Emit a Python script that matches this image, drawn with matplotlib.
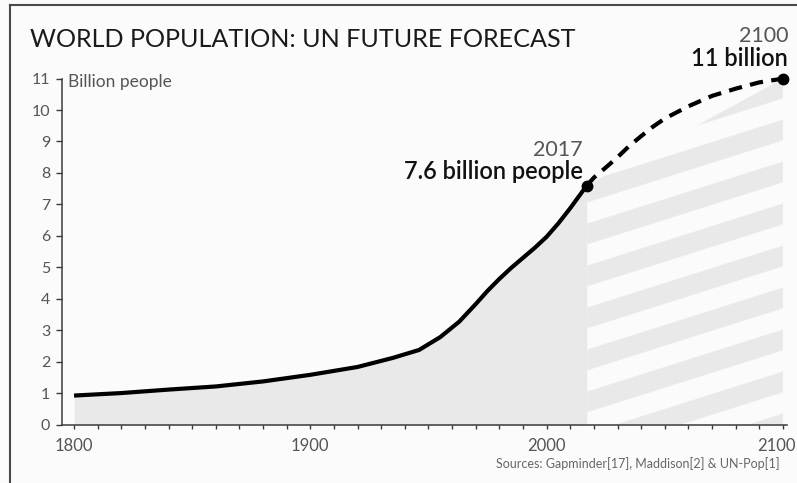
import numpy as np
import matplotlib
matplotlib.use("Agg")
import matplotlib.pyplot as plt
from matplotlib.patches import Polygon
from matplotlib.lines import Line2D

# World population, billions (historic estimates)
years_hist = [1800, 1820, 1840, 1860, 1880, 1900, 1920, 1935, 1946, 1955, 1963,
              1970, 1975, 1980, 1985, 1990, 1995, 2000, 2005, 2010, 2017]
pop_hist = [0.92, 1.00, 1.11, 1.21, 1.37, 1.58, 1.83, 2.12, 2.37, 2.78, 3.27,
            3.83, 4.25, 4.63, 4.98, 5.3, 5.62, 5.97, 6.4, 6.88, 7.6]

# UN medium-variant projection
years_proj = [2017, 2020, 2025, 2030, 2035, 2040, 2045, 2050, 2060, 2070, 2080, 2090, 2100]
pop_proj = [7.6, 7.85, 8.17, 8.5, 8.86, 9.17, 9.47, 9.73, 10.12, 10.45, 10.68, 10.88, 11.0]

x_major = [1800, 1900, 2000, 2100]
x_labels = ["1800", "1900", "2000", "2100"]
y_ticks = list(range(0, 12))

FILL = "#e9e9e9"
TXT_GREY = "#555555"
AXIS = "#3a3a3a"

W, H = 797, 483
fig = plt.figure(figsize=(W / 100, H / 100), dpi=100, facecolor="#fbfbfb")
plt.rcParams["font.family"] = ["Lato", "DejaVu Sans"]

def fx(px):
    return px / W

def fy(py):
    return 1 - py / H

ax = fig.add_axes([fx(62), fy(424.5), (786.7 - 62) / W, (424.5 - 78.6) / H])
ax.set_facecolor("none")
ax.set_xlim(1794.9, 2101.6)
ax.set_ylim(0, 11)

# solid area under the historic curve
ax.fill_between(years_hist, 0, pop_hist, color=FILL, lw=0, zorder=1)

# striped area for the projection, bounded by the chord between end points
clip = Polygon([(years_proj[0], 0), (years_proj[0], pop_proj[0]),
                (years_proj[-1], pop_proj[-1]), (years_proj[-1], 0)],
               closed=True, transform=ax.transData, facecolor="none",
               edgecolor="none")
ax.add_patch(clip)
period, band, slope, base = 1.335, 0.66, 0.0238, 1.74
xs = np.array([years_proj[0], years_proj[-1]], dtype=float)
for k in range(-3, 8):
    lo = base + k * period + slope * (xs - xs[0])
    poly = ax.fill_between(xs, lo, lo + band, color=FILL, lw=0, zorder=1)
    poly.set_clip_path(clip)

# curves
ax.plot(years_hist, pop_hist, color="black", lw=3.0, solid_capstyle="butt",
        solid_joinstyle="round", zorder=3)
ax.plot(years_proj, pop_proj, color="black", lw=3.0, dashes=(3.2, 2.0),
        zorder=3, clip_on=False)
ax.plot([years_proj[0], years_proj[-1]], [pop_proj[0], pop_proj[-1]], "o",
        color="black", ms=7.5, zorder=4, clip_on=False)

# axes styling
for s in ("top", "right"):
    ax.spines[s].set_visible(False)
for s in ("left", "bottom"):
    ax.spines[s].set_color(AXIS)
    ax.spines[s].set_linewidth(1.1)
ax.spines["left"].set_bounds(0, 11)

ax.set_xticks(x_major)
ax.set_xticklabels(x_labels[:-1] + [""])
ax.set_xticks(np.arange(1800, 2101, 10), minor=True)
ax.set_yticks(y_ticks)
ax.tick_params(axis="x", which="both", direction="out", length=3, width=1.0,
               color=AXIS, labelsize=12, labelcolor=TXT_GREY, pad=7)
ax.tick_params(axis="y", direction="out", length=4.5, width=1.0, color=AXIS,
               labelsize=11.5, labelcolor=TXT_GREY, pad=4)
# last year label, right-aligned so it stays inside the canvas
ax.annotate(x_labels[-1], xy=(x_major[-1], 0), xycoords=("data", "axes fraction"),
            xytext=(9.0, -10), textcoords="offset points", ha="right",
            va="top", fontsize=12, color=TXT_GREY)

ax.text(fx(68), fy(87), "Billion people", transform=fig.transFigure,
        fontsize=12.5, color=TXT_GREY, ha="left", va="baseline")

# annotations
fig.text(fx(583), fy(155.5), "2017", fontsize=15.5, color=TXT_GREY,
         ha="right", va="baseline")
fig.text(fx(583), fy(179), "7.6 billion people", fontsize=17,
         color="#111111", ha="right", va="baseline", fontweight="semibold")
fig.text(fx(788), fy(42.5), "2100", fontsize=15.5, color=TXT_GREY,
         ha="right", va="baseline")
fig.text(fx(788), fy(66.5), "11 billion", fontsize=17, color="#111111",
         ha="right", va="baseline", fontweight="semibold")

# title and source line
fig.text(fx(30), fy(47), "WORLD POPULATION: UN FUTURE FORECAST", fontsize=18.1,
         color="#1a1a1a", ha="left", va="baseline")
fig.text(fx(780), fy(468), "Sources: Gapminder[17], Maddison[2] & UN-Pop[1]",
         fontsize=9, color="#666666", ha="right", va="baseline")

# frame edges
fig.add_artist(Line2D([fx(10), 1], [fy(5.3), fy(5.3)], transform=fig.transFigure,
                      color="#4a4a4a", lw=1.5))
fig.add_artist(Line2D([fx(10), fx(10)], [0, fy(5.3)], transform=fig.transFigure,
                      color="#4a4a4a", lw=1.5))

fig.savefig("out.png", dpi=100, facecolor=fig.get_facecolor())
